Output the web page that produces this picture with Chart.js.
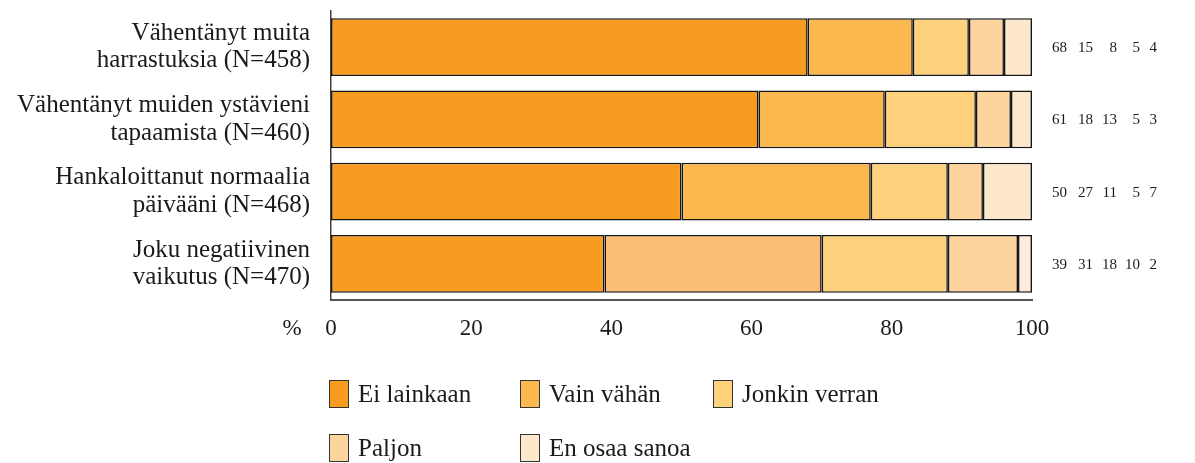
<!DOCTYPE html>
<html>
<head>
<meta charset="utf-8">
<script src="https://cdn.jsdelivr.net/npm/chart.js@4/dist/chart.umd.min.js"></script>
<style>
  html, body { margin: 0; padding: 0; background: #fff; }
  #wrap { position: relative; width: 1195px; height: 463px; }
  #legend { position: absolute; left: 0; top: 0; font-family: "Liberation Serif", "DejaVu Serif", serif; font-size: 25px; color: #1a1a1a; }
  .item { position: absolute; display: flex; align-items: center; white-space: nowrap; }
  .box { width: 20px; height: 28px; border: 1.3px solid #333; box-sizing: border-box; margin-right: 9px; }
</style>
</head>
<body>
<div id="wrap">
  <canvas id="chart" width="1195" height="463"></canvas>
  <div id="legend"></div>
</div>
<script>
// Categories (y axis), top to bottom
const categories = [
    ['Vähentänyt muita', 'harrastuksia (N=458)'],
    ['Vähentänyt muiden ystävieni', 'tapaamista (N=460)'],
    ['Hankaloittanut normaalia', 'päivääni (N=468)'],
    ['Joku negatiivinen', 'vaikutus (N=470)']
];

// Series (percent)
const eiLainkaan   = [68, 61, 50, 39];
const vainVahan    = [15, 18, 27, 31];
const jonkinVerran = [8, 13, 11, 18];
const paljon       = [5, 5, 5, 10];
const enOsaaSanoa  = [4, 3, 7, 2];

const seriesNames = ['Ei lainkaan', 'Vain vähän', 'Jonkin verran', 'Paljon', 'En osaa sanoa'];
const seriesValues = [eiLainkaan, vainVahan, jonkinVerran, paljon, enOsaaSanoa];

// Colours per series; last row uses slightly different tints
const seriesColors = [
    ['#F79C20', '#F79C20', '#F79C20', '#F79C20'],
    ['#FBB84E', '#FBB84E', '#FBB84E', '#FCBE74'],
    ['#FED27D', '#FED27D', '#FED27D', '#FED27D'],
    ['#FED49E', '#FED49E', '#FED49E', '#FED49E'],
    ['#FEE8CC', '#FEE8CC', '#FEE8CC', '#FDEBDD']
];
const legendColors = ['#F79C20', '#FBB84E', '#FED27D', '#FED49E', '#FEE8CC'];

const xTicks = [0, 20, 40, 60, 80, 100];

const serif = '"Liberation Serif", "DejaVu Serif", serif';

// Right-hand number columns (right edges) and "%" label
const numberColumnsRight = [1067, 1093, 1117, 1140, 1157];

const sidePlugin = {
    id: 'sideText',
    afterDraw(chart) {
        const ctx = chart.ctx;
        const yScale = chart.scales.y;
        const xScale = chart.scales.x;
        ctx.save();
        ctx.fillStyle = '#1a1a1a';
        ctx.font = '15px ' + serif;
        ctx.textAlign = 'right';
        ctx.textBaseline = 'middle';
        categories.forEach((c, i) => {
            const y = yScale.getPixelForValue(i);
            seriesValues.forEach((vals, s) => {
                ctx.fillText(String(vals[i]), numberColumnsRight[s], y + 1);
            });
        });
        ctx.font = '23px ' + serif;
        ctx.textAlign = 'center';
        ctx.fillText('%', 292, xScale.bottom - 11);
        ctx.restore();
    }
};

const datasets = seriesNames.map((name, s) => ({
    label: name,
    data: seriesValues[s],
    backgroundColor: seriesColors[s],
    borderColor: '#151515',
    borderWidth: 1.6,
    borderSkipped: false,
    barPercentage: 0.8,
    categoryPercentage: 1.0
}));

new Chart(document.getElementById('chart'), {
    type: 'bar',
    data: { labels: categories, datasets },
    options: {
        indexAxis: 'y',
        responsive: false,
        animation: false,
        layout: { padding: { top: 11, right: 163, bottom: 123, left: 0 } },
        plugins: {
            legend: { display: false },
            tooltip: { enabled: false }
        },
        scales: {
            x: {
                stacked: true,
                min: 0,
                max: 100,
                afterBuildTicks(scale) { scale.ticks = xTicks.map(v => ({ value: v })); },
                afterFit(scale) { scale.height = 40; scale.paddingLeft = 0; scale.paddingRight = 0; },
                grid: { display: false, drawTicks: false },
                border: { display: true, color: '#555', width: 2 },
                ticks: { color: '#1a1a1a', font: { family: serif, size: 23 }, padding: 15, maxRotation: 0 }
            },
            y: {
                stacked: true,
                afterFit(scale) { scale.width = 331; scale.paddingTop = 0; scale.paddingBottom = 0; },
                grid: { display: false, drawTicks: false },
                border: { display: true, color: '#4a4030', width: 1.5 },
                ticks: { color: '#1a1a1a', font: { family: serif, size: 25, lineHeight: 1.1 }, padding: 21 }
            }
        }
    },
    plugins: [sidePlugin]
});

// Legend in two rows
const legendPos = [[329, 380], [520, 380], [713, 380], [329, 434], [520, 434]];
const legendEl = document.getElementById('legend');
seriesNames.forEach((name, s) => {
    const item = document.createElement('div');
    item.className = 'item';
    item.style.left = legendPos[s][0] + 'px';
    item.style.top = legendPos[s][1] + 'px';
    item.innerHTML = '<div class="box" style="background:' + legendColors[s] + '"></div><span>' + name + '</span>';
    legendEl.appendChild(item);
});
</script>
</body>
</html>
